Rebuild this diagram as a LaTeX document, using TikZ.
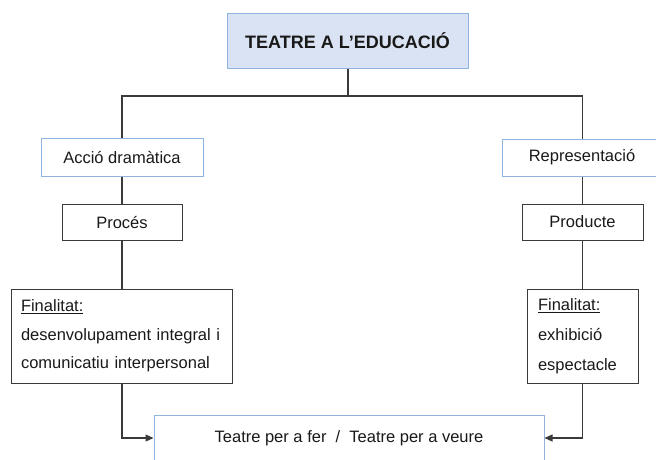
\documentclass[tikz,border=0pt]{standalone}
\usepackage{fontspec}
\setmainfont{Liberation Sans}
\usetikzlibrary{arrows.meta}
\definecolor{bfill}{HTML}{DAE3F3}
\definecolor{bline}{HTML}{8FB4E0}
\definecolor{dline}{HTML}{3A3A3A}
\tikzset{
  every node/.style={inner sep=0pt, text=black!90},
  bluebox/.style={draw=bline, line width=1pt, font=\fontsize{16.5}{20}\selectfont},
  blackbox/.style={draw=dline, line width=1pt, font=\fontsize{16.5}{20}\selectfont},
  conn/.style={draw=dline, line width=1.1pt},
  arr/.style={conn, -{Triangle[length=8pt, width=7pt]}},
}
\begin{document}
\begin{tikzpicture}[x=1pt, y=-1pt]
\useasboundingbox (0,0) rectangle (656,459);
\node[bluebox, fill=bfill, minimum width=241, minimum height=55, font=\fontsize{18}{20}\selectfont\bfseries] (top) at (347.5,40.5) {TEATRE A L’EDUCACIÓ};
\node[bluebox, minimum width=162, minimum height=38] (accio) at (122,157) {Acció dramàtica};
\node[bluebox, minimum width=160, minimum height=37] (repr) at (582,157.5) {Representació};
\node[blackbox, minimum width=120, minimum height=36] (proces) at (122,222) {Procés};
\node[blackbox, minimum width=121, minimum height=36] (prod) at (582.5,222) {Producte};
\node[blackbox, minimum width=221, minimum height=94, text width=201pt, inner xsep=10pt, align=left, font=\fontsize{16.5}{28.5}\selectfont] (finl) at (121.5,336) {\underline{Finalitat:}\\desenvolupament integral i\\comunicatiu interpersonal};
\node[blackbox, minimum width=111, minimum height=94, text width=89pt, inner xsep=11pt, align=left, font=\fontsize{16.5}{30}\selectfont] (finr) at (582.5,336) {\underline{Finalitat:}\\exhibició\\espectacle};
\node[bluebox, minimum width=390, minimum height=46] (bottom) at (349,438) {Teatre per a fer\ \ /\ \ Teatre per a veure};
\coordinate (j) at (348,96);
\draw[conn] (top.south -| j) -- (j);
\draw[conn] (accio.north) |- (j) -| (repr.north -| prod);
\draw[conn] (accio.south) -- (proces.north);
\draw[conn] (repr.south -| prod) -- (prod.north);
\draw[conn] (proces.south) -- (finl.north -| proces);
\draw[conn] (prod.south) -- (finr.north -| prod);
\draw[arr] (finl.south -| proces) |- (bottom.west);
\draw[arr] (finr.south -| prod) |- (bottom.east);
\end{tikzpicture}
\end{document}
